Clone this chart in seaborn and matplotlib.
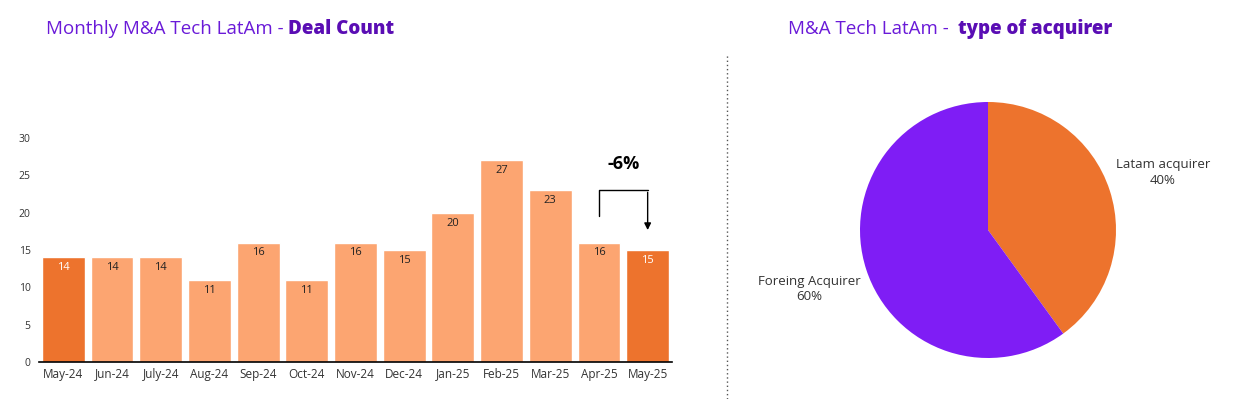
import matplotlib
matplotlib.use("Agg")
import matplotlib.pyplot as plt
import seaborn as sns
import pandas as pd

months = ["May-24", "Jun-24", "July-24", "Aug-24", "Sep-24", "Oct-24", "Nov-24",
          "Dec-24", "Jan-25", "Feb-25", "Mar-25", "Apr-25", "May-25"]
deals = [14, 14, 14, 11, 16, 11, 16, 15, 20, 27, 23, 16, 15]
highlight = [True, False, False, False, False, False, False, False, False, False, False, False, True]
change_label = "-6%"

acq_labels = ["Latam acquirer", "Foreing Acquirer"]
acq_share = [40, 60]

DARK = "#ED732D"
LIGHT = "#FCA571"
PURPLE = "#7F1DF5"
TITLE_LIGHT = "#6A1AD8"
TITLE_BOLD = "#5A0DB4"

sns.set_theme(style="white")
plt.rcParams["font.family"] = ["Open Sans", "DejaVu Sans"]

fig = plt.figure(figsize=(12.49, 3.99), dpi=100)

df = pd.DataFrame({"month": months, "deals": deals,
                   "kind": ["hi" if h else "lo" for h in highlight]})

ax = fig.add_axes([39 / 1249, 37 / 399, 633 / 1249, 224 / 399])
sns.barplot(data=df, x="month", y="deals", hue="kind", dodge=False,
            palette={"hi": DARK, "lo": LIGHT}, width=0.88, ax=ax, legend=False,
            saturation=1)
ax.set_xlim(-0.5, len(months) - 0.5)
ax.set_ylim(0, 30)
ax.set_yticks([0, 5, 10, 15, 20, 25, 30])
ax.set_xlabel("")
ax.set_ylabel("")
for s in ["top", "right", "left"]:
    ax.spines[s].set_visible(False)
ax.spines["bottom"].set_color("black")
ax.spines["bottom"].set_linewidth(1.2)
ax.tick_params(axis="x", labelsize=8.5, colors="#333333", length=0, pad=4)
ax.tick_params(axis="y", labelsize=7.5, colors="#333333", length=0, pad=6)
ax.set_xticks(range(len(months)))
ax.set_xticklabels(months)

for i, (v, h) in enumerate(zip(deals, highlight)):
    ax.text(i, v - 1.4, str(v), ha="center", va="center", fontsize=8,
            color="white" if h else "#222222")

# -6% bracket annotation
i0, i1 = len(deals) - 2, len(deals) - 1
ax.plot([i0, i0, i1], [19.5, 23, 23], color="black", lw=1)
ax.annotate("", xy=(i1, 17.3), xytext=(i1, 23.1),
            arrowprops=dict(arrowstyle="-|>", color="black", lw=1, mutation_scale=10))
ax.text((i0 + i1) / 2, 26.5, change_label, ha="center", va="center",
        fontsize=13, fontweight="bold", color="black")

# Titles: light part then bold part placed right after it
renderer = fig.canvas.get_renderer()
def title(x_px, light, bold):
    t = fig.text(x_px / 1249, 1 - 29 / 399, light, fontsize=13.5,
                 color=TITLE_LIGHT, va="center", ha="left")
    bb = t.get_window_extent(renderer=renderer)
    fig.text(bb.x1 / fig.bbox.width, 1 - 29 / 399, bold, fontsize=13.5,
             fontweight="heavy", color=TITLE_BOLD, va="center", ha="left")

title(46, "Monthly M&A Tech LatAm - ", "Deal Count")
title(788, "M&A Tech LatAm -  ", "type of acquirer")

# Dotted separator
fig.add_artist(plt.Line2D([727 / 1249, 727 / 1249], [0, 1 - 55 / 399],
                          transform=fig.transFigure, color="#555555", lw=1,
                          linestyle=(0, (1, 2))))

# Pie
r = 128
pax = fig.add_axes([(988 - r) / 1249, (399 - 230 - r) / 399, 2 * r / 1249, 2 * r / 399])
pax.pie(acq_share, colors=[DARK, PURPLE], startangle=90, counterclock=False,
        wedgeprops=dict(linewidth=0))
pax.set_aspect("auto")
pax.set_xlim(-1, 1)
pax.set_ylim(-1, 1)
pax.axis("off")

fig.text(1163 / 1249, 1 - 173 / 399, f"{acq_labels[0]}\n{acq_share[0]}%", ha="center",
         va="center", fontsize=9.5, color="#333333", linespacing=1.3)
fig.text(809 / 1249, 1 - 289 / 399, f"{acq_labels[1]}\n{acq_share[1]}%", ha="center",
         va="center", fontsize=9.5, color="#333333", linespacing=1.3)

fig.savefig("out.png", dpi=100)
